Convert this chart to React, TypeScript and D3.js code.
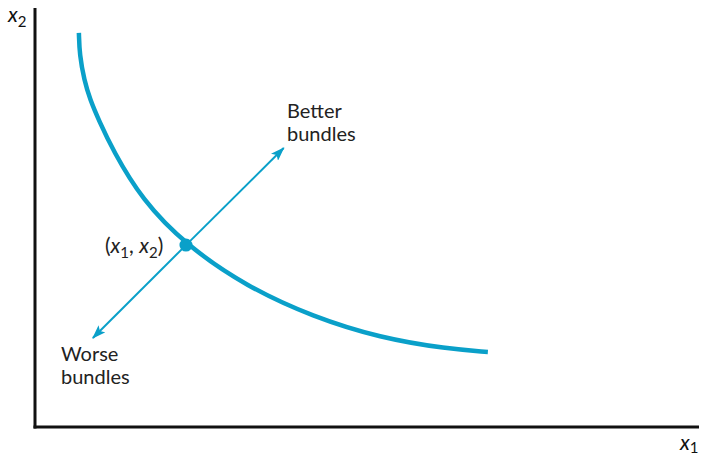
import React from 'react';
import * as d3 from 'd3';

// indifference curve (x1, x2 in arbitrary units 0..100)
const curveX1 = [6.6, 6.7, 7.4, 8.3, 9.6, 11.7, 16.1, 22.7, 31.9, 41.8, 51.9, 62.0, 68.1];
const curveX2 = [93.4, 88.2, 82.2, 77.5, 72.7, 65.6, 53.8, 43.1, 33.2, 26.1, 21.1, 18.5, 17.8];

const bundle = [22.7, 43.1];
const betterTip = [37.4, 66.1];
const worseTip = [8.7, 21.1];

const betterLabel = ['Better', 'bundles'];
const worseLabel = ['Worse', 'bundles'];

const W = 701;
const H = 455;
const BLUE = '#0aa0c9';
const FONT = 'Lato, "Noto Sans", sans-serif';

const App: React.FC = () => {
  const x = d3.scaleLinear().domain([0, 100]).range([35, 700]);
  const y = d3.scaleLinear().domain([0, 100]).range([427, 5]);

  const pts: [number, number][] = curveX1.map((v, i) => [v, curveX2[i]]);
  // B-spline smooths out the small reading errors in the points
  const line = d3.line<[number, number]>()
    .x(d => x(d[0]))
    .y(d => y(d[1]))
    .curve(d3.curveBasis);

  const px = x(bundle[0]);
  const py = y(bundle[1]);

  return (
    <svg width={W} height={H} style={{ position: 'absolute', left: 0, top: 0, background: '#fff' }}>
      <defs>
        <marker id="head" viewBox="0 0 14 10" refX="13" refY="5" markerWidth="14" markerHeight="10"
          markerUnits="userSpaceOnUse" orient="auto">
          <path d="M0,0 L14,5 L0,10 L3,5 Z" fill={BLUE} />
        </marker>
      </defs>

      {/* axes */}
      <line x1={x(0)} y1={8} x2={x(0)} y2={y(0) + 1.5} stroke="#111" strokeWidth={3} />
      <line x1={x(0) - 1.5} y1={y(0)} x2={699} y2={y(0)} stroke="#111" strokeWidth={3} />

      <text x={8} y={22} fontFamily={FONT} fontSize={21} fontStyle="italic" fill="#111">
        x<tspan fontSize={15} fontStyle="normal" dy={5}>2</tspan>
      </text>
      <text x={680} y={450} fontFamily={FONT} fontSize={21} fontStyle="italic" fill="#111">
        x<tspan fontSize={15} fontStyle="normal" dy={3}>1</tspan>
      </text>

      {/* arrows */}
      <line x1={px} y1={py} x2={x(betterTip[0])} y2={y(betterTip[1])} stroke={BLUE} strokeWidth={2} markerEnd="url(#head)" />
      <line x1={px} y1={py} x2={x(worseTip[0])} y2={y(worseTip[1])} stroke={BLUE} strokeWidth={2} markerEnd="url(#head)" />

      {/* curve */}
      <path d={line(pts) ?? ''} fill="none" stroke={BLUE} strokeWidth={4.5} />
      <circle cx={px} cy={py} r={6.5} fill={BLUE} />

      {/* labels */}
      <text fontFamily={FONT} fontSize={20} fill="#222">
        {betterLabel.map((t, i) => (
          <tspan key={t} x={287} y={118 + i * 23}>{t}</tspan>
        ))}
      </text>
      <text fontFamily={FONT} fontSize={20} fill="#222">
        {worseLabel.map((t, i) => (
          <tspan key={t} x={61} y={361 + i * 23}>{t}</tspan>
        ))}
      </text>
      <text x={105} y={253} fontFamily={FONT} fontSize={21} fill="#222">
        (<tspan fontStyle="italic">x</tspan><tspan fontSize={15} dy={5}>1</tspan><tspan dy={-5}>, </tspan>
        <tspan fontStyle="italic">x</tspan><tspan fontSize={15} dy={5}>2</tspan><tspan dy={-5}>)</tspan>
      </text>
    </svg>
  );
};

export default App;
